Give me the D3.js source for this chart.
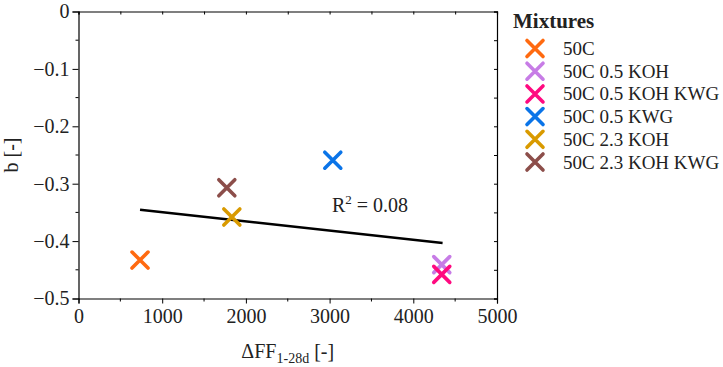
<!DOCTYPE html>
<html>
<head>
<meta charset="utf-8">
<script src="https://cdn.jsdelivr.net/npm/d3@7"></script>
<style>
  html, body { margin: 0; padding: 0; background: #fff; }
  svg { display: block; }
  text { font-family: "Liberation Serif", "DejaVu Serif", serif; fill: #222; }
</style>
</head>
<body>
<svg id="chart" width="723" height="367"></svg>
<script>
// ---- data ----
const mixtures = ["50C", "50C 0.5 KOH", "50C 0.5 KOH KWG", "50C 0.5 KWG", "50C 2.3 KOH", "50C 2.3 KOH KWG"];
const deltaFF = [735, 4340, 4340, 3038, 1832, 1772];
const bValues = [-0.433, -0.441, -0.458, -0.259, -0.358, -0.307];
const colors = ["#FF6A10", "#C77CE6", "#FF0A80", "#0A74E8", "#D99A00", "#8C4E4A"];
const trendX = [735, 4350];
const trendY = [-0.3455, -0.4035];
const xTicks = [0, 1000, 2000, 3000, 4000, 5000];
const yTicks = [0, -0.1, -0.2, -0.3, -0.4, -0.5];
const r2Label = "0.08";

(function () {
// ---- layout ----
const svg = d3.select("#chart");
const pL = 78.5, pR = 497, pT = 11.5, pB = 298.5;
const x = d3.scaleLinear().domain([0, 5000]).range([pL, pR]);
const y = d3.scaleLinear().domain([-0.5, 0]).range([pB, pT]);
const fmtY = v => v === 0 ? "0" : "\u2212" + Math.abs(v).toFixed(1);

const g = svg.append("g");

// bottom axis
const xAxis = d3.axisBottom(x).tickValues(xTicks).tickSize(5).tickPadding(5).tickFormat(d3.format("d"));
const gx = g.append("g").attr("transform", `translate(0,${pB})`).call(xAxis);
gx.selectAll(".tick text").attr("font-size", 20).style("font-family", "Liberation Serif").attr("fill", "#222");
const xMinor = d3.range(500, 5000, 1000);
gx.selectAll(".minor").data(xMinor).enter().append("line")
  .attr("x1", d => x(d)).attr("x2", d => x(d)).attr("y1", 0).attr("y2", 3).attr("stroke", "#000");

// left axis
const yAxis = d3.axisLeft(y).tickValues(yTicks).tickSize(6).tickPadding(3).tickFormat(fmtY);
const gy = g.append("g").attr("transform", `translate(${pL},0)`).call(yAxis);
gy.selectAll(".tick text").attr("font-size", 20).style("font-family", "Liberation Serif").attr("fill", "#222");
const yMinor = [-0.05, -0.15, -0.25, -0.35, -0.45];
gy.selectAll(".minor").data(yMinor).enter().append("line")
  .attr("x1", 0).attr("x2", -3).attr("y1", d => y(d)).attr("y2", d => y(d)).attr("stroke", "#000");

// top axis (inward ticks)
const gt = g.append("g").attr("transform", `translate(0,${pT})`)
  .call(d3.axisBottom(x).tickValues(xTicks.concat(xMinor)).tickSize(3).tickFormat(""));
// right axis (inward ticks)
const gr = g.append("g").attr("transform", `translate(${pR},0)`)
  .call(d3.axisLeft(y).tickValues(yTicks.concat(yMinor)).tickSize(3).tickFormat(""));
[gx, gy, gt, gr].forEach(a => a.select(".domain").attr("stroke", "#000").attr("stroke-width", 1.2));
g.selectAll(".tick line").attr("stroke", "#000");

// axis titles
const xt = svg.append("text").attr("x", (pL + pR) / 2).attr("y", 358)
  .attr("text-anchor", "middle").attr("font-size", 20);
xt.append("tspan").text("\u0394FF");
xt.append("tspan").attr("font-size", 14).attr("dy", 5).text("1-28d");
xt.append("tspan").attr("dy", -5).text(" [-]");

svg.append("text").attr("transform", `translate(18,${(pT + pB) / 2}) rotate(-90)`)
  .attr("text-anchor", "middle").attr("font-size", 20).text("b [-]");

// trend line
const pts = trendX.map((d, i) => [d, trendY[i]]);
g.append("path").datum(pts)
  .attr("d", d3.line().x(d => x(d[0])).y(d => y(d[1])))
  .attr("stroke", "#000").attr("stroke-width", 2.5).attr("fill", "none");

// R2 label
const rt = svg.append("text").attr("x", 332).attr("y", 212).attr("font-size", 20);
rt.append("tspan").text("R");
rt.append("tspan").attr("font-size", 13).attr("dy", -8).text("2");
rt.append("tspan").attr("dy", 8).text(" = " + r2Label);

// markers
const cross = (sel, s) => sel.append("path")
  .attr("d", `M${-s},${-s}L${s},${s}M${-s},${s}L${s},${-s}`)
  .attr("stroke-width", 3.6).attr("stroke-linecap", "round").attr("fill", "none");

mixtures.forEach((m, i) => {
  const p = g.append("g").attr("transform", `translate(${x(deltaFF[i])},${y(bValues[i])})`);
  cross(p, 8).attr("stroke", colors[i]);
});

// legend
const lg = svg.append("g");
lg.append("text").attr("x", 513).attr("y", 28).attr("font-size", 21).attr("font-weight", "bold").text("Mixtures");
mixtures.forEach((m, i) => {
  const cy = 48.5 + i * 22.7;
  const p = lg.append("g").attr("transform", `translate(535,${cy})`);
  cross(p, 8).attr("stroke", colors[i]);
  lg.append("text").attr("x", 563).attr("y", cy + 6.5).attr("font-size", 19).text(m);
});
})();
</script>
</body>
</html>
